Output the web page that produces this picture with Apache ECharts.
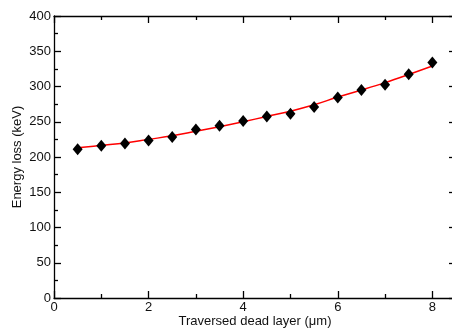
<!DOCTYPE html>
<html>
<head>
<meta charset="utf-8">
<script src="https://cdn.jsdelivr.net/npm/echarts@6/dist/echarts.min.js"></script>
<style>html,body{margin:0;padding:0;background:#fff;}#c{width:452px;height:329px;}</style>
</head>
<body>
<div id="c"></div>
<script>
const thickness = [0.5, 1, 1.5, 2, 2.5, 3, 3.5, 4, 4.5, 5, 5.5, 6, 6.5, 7, 7.5, 8];
const energyLoss = [211, 216, 219, 223.5, 228.5, 239, 244.5, 251, 257.5, 261.5, 271, 284.5, 295, 302.5, 317.5, 334];
const fitLoss = [213, 216.5, 220, 225, 230, 236.5, 243, 250, 257.5, 265, 274, 285, 295, 305.5, 317, 329];
const xTicks = [0, 2, 4, 6, 8];
const yTicks = [0, 50, 100, 150, 200, 250, 300, 350, 400];

const font = 'Liberation Sans, Arial, Helvetica, sans-serif';
const lineStyle = { color: '#000', width: 1.3 };
const chart = echarts.init(document.getElementById('c'), null, { renderer: 'canvas' });

function xAxisBase(pos, showLabel) {
  return {
    type: 'value', position: pos, min: 0, max: 8.5, interval: 2,
    axisLine: { show: true, onZero: false, lineStyle: lineStyle },
    axisTick: { show: true, inside: true, length: 7, lineStyle: lineStyle },
    minorTick: { show: true, splitNumber: 2, length: 4, lineStyle: lineStyle },
    splitLine: { show: false },
    axisLabel: {
      show: showLabel, margin: 3, color: '#111', fontSize: 13, fontFamily: font,
      showMaxLabel: false,
      formatter: v => (xTicks.indexOf(v) >= 0 ? String(v) : '')
    }
  };
}
function yAxisBase(pos, showLabel) {
  return {
    type: 'value', position: pos, min: 0, max: 400, interval: 50,
    axisLine: { show: true, onZero: false, lineStyle: lineStyle },
    axisTick: { show: true, inside: true, length: 7, lineStyle: lineStyle },
    minorTick: { show: true, splitNumber: 2, length: 4, lineStyle: lineStyle },
    splitLine: { show: false },
    axisLabel: {
      show: showLabel, margin: 3, color: '#111', fontSize: 13, fontFamily: font,
      formatter: v => (yTicks.indexOf(v) >= 0 ? String(v) : '')
    }
  };
}

const xBottom = Object.assign(xAxisBase('bottom', true), {
  name: 'Traversed dead layer (\u03bcm)', nameLocation: 'middle', nameGap: 17,
  nameMoveOverlap: false,
  nameTextStyle: { color: '#111', fontSize: 13, fontFamily: font }
});
const yLeft = Object.assign(yAxisBase('left', true), {
  name: 'Energy loss (keV)', nameLocation: 'middle', nameGap: 30,
  nameMoveOverlap: false,
  nameTextStyle: { color: '#111', fontSize: 13, fontFamily: font }
});

chart.setOption({
  animation: false,
  backgroundColor: '#fff',
  grid: { left: 54, top: 16, width: 402, height: 282, containLabel: false, outerBoundsMode: 'none' },
  xAxis: [xBottom, xAxisBase('top', false)],
  yAxis: [yLeft, yAxisBase('right', false)],
  series: [
    {
      type: 'line', name: 'fit', xAxisIndex: 0, yAxisIndex: 0,
      data: thickness.map((x, i) => [x, fitLoss[i]]),
      smooth: 0.4, showSymbol: false, symbol: 'none',
      lineStyle: { color: '#ff0000', width: 1.5 }, z: 2
    },
    {
      type: 'scatter', name: 'data', xAxisIndex: 0, yAxisIndex: 0,
      data: thickness.map((x, i) => [x, energyLoss[i]]),
      symbol: 'diamond', symbolSize: [10, 12],
      itemStyle: { color: '#000', opacity: 1 }, z: 3
    }
  ]
});
</script>
</body>
</html>
